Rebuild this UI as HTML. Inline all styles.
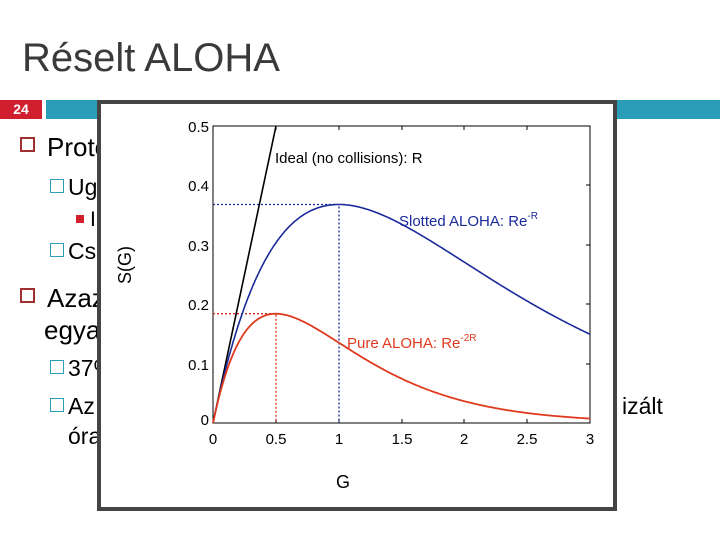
<!DOCTYPE html>
<html><head><meta charset="utf-8"><style>
html,body{margin:0;padding:0;width:720px;height:540px;overflow:hidden;background:#fff;font-family:"Liberation Sans",sans-serif;}
.t{position:absolute;white-space:nowrap;color:#000;}
</style></head><body>
<div class="t" style="left:22px;top:36px;font-size:40px;color:#3a3a3a;">Réselt ALOHA</div>
<div style="position:absolute;left:0;top:100px;width:42px;height:19px;background:#d0202f;color:#fff;font-weight:bold;font-size:14px;line-height:19px;text-align:center;">24</div>
<div style="position:absolute;left:46px;top:100px;width:674px;height:19px;background:#2b9db9;"></div>
<div class="t" style="left:20px;top:132px;font-size:26px;"><span style="display:inline-block;width:11px;height:11px;border:2px solid #a03030;margin-right:12px;vertical-align:4px"></span>Protokoll</div>
<div class="t" style="left:50px;top:174px;font-size:23px;"><span style="display:inline-block;width:12px;height:12px;border:1px solid #2b9db9;margin-right:4px;vertical-align:2px"></span>Ugyanaz</div>
<div class="t" style="left:76px;top:208px;font-size:21px;"><span style="display:inline-block;width:8px;height:8px;background:#d0202f;margin-right:6px;vertical-align:3px"></span>I</div>
<div class="t" style="left:50px;top:238px;font-size:23px;"><span style="display:inline-block;width:12px;height:12px;border:1px solid #2b9db9;margin-right:4px;vertical-align:2px"></span>Csak</div>
<div class="t" style="left:20px;top:283px;font-size:26px;"><span style="display:inline-block;width:11px;height:11px;border:2px solid #a03030;margin-right:12px;vertical-align:4px"></span>Azaz</div>
<div class="t" style="left:44px;top:315px;font-size:26px;">egyaránt</div>
<div class="t" style="left:50px;top:355px;font-size:23px;"><span style="display:inline-block;width:12px;height:12px;border:1px solid #2b9db9;margin-right:4px;vertical-align:2px"></span>37%</div>
<div class="t" style="left:50px;top:393px;font-size:23px;"><span style="display:inline-block;width:12px;height:12px;border:1px solid #2b9db9;margin-right:4px;vertical-align:2px"></span>Az</div>
<div class="t" style="left:622px;top:393px;font-size:23px;">izált</div>
<div class="t" style="left:68px;top:423px;font-size:23px;">óra</div>
<div style="position:absolute;left:97px;top:100px;width:512px;height:403px;border:4px solid #444;background:#fff;"></div>
<svg id="s" width="720" height="540" style="position:absolute;left:0;top:0" font-family="Liberation Sans, sans-serif">
<rect x="213" y="126" width="377" height="297" fill="none" stroke="#000" stroke-width="1"/>
<g stroke="#000" stroke-width="1">
<line x1="276" y1="423" x2="276" y2="419"/><line x1="339" y1="423" x2="339" y2="419"/><line x1="402" y1="423" x2="402" y2="419"/><line x1="464" y1="423" x2="464" y2="419"/><line x1="527" y1="423" x2="527" y2="419"/>
<line x1="276" y1="126" x2="276" y2="130"/><line x1="339" y1="126" x2="339" y2="130"/><line x1="402" y1="126" x2="402" y2="130"/><line x1="464" y1="126" x2="464" y2="130"/><line x1="527" y1="126" x2="527" y2="130"/>
<line x1="590" y1="185" x2="586" y2="185"/><line x1="590" y1="245" x2="586" y2="245"/><line x1="590" y1="304" x2="586" y2="304"/><line x1="590" y1="364" x2="586" y2="364"/>
</g>
<g font-size="15" fill="#000" text-anchor="end">
<text x="209" y="132">0.5</text><text x="209" y="191">0.4</text><text x="209" y="251">0.3</text><text x="209" y="310">0.2</text><text x="209" y="370">0.1</text><text x="209" y="425">0</text>
</g>
<g font-size="15" fill="#000" text-anchor="middle">
<text x="213" y="444">0</text><text x="276" y="444">0.5</text><text x="339" y="444">1</text><text x="402" y="444">1.5</text><text x="464" y="444">2</text><text x="527" y="444">2.5</text><text x="590" y="444">3</text>
<text x="343" y="488" font-size="18">G</text>
</g>
<text transform="translate(131,265) rotate(-90)" font-size="18" text-anchor="middle">S(G)</text>
<g stroke-width="1.3" stroke-dasharray="2,2" fill="none">
<polyline points="213,204.5 339,204.5 339,423" stroke="#1a2a9a"/>
<polyline points="213,313.7 276,313.7 276,423" stroke="#d03020"/>
</g>
<line x1="213" y1="423" x2="276" y2="126" stroke="#000" stroke-width="1.6"/>
<path id="b" fill="none" stroke="#1a2a9a" stroke-width="1.6"/>
<path id="r" fill="none" stroke="#e03a1e" stroke-width="1.8"/>
<text x="275" y="163" font-size="15" fill="#000">Ideal (no collisions): R</text>
<text x="399" y="226" font-size="15" fill="#1a2a9a">Slotted ALOHA: Re<tspan font-size="10" dy="-7">-R</tspan></text>
<text x="347" y="348" font-size="15" fill="#e03a1e">Pure ALOHA: Re<tspan font-size="10" dy="-7">-2R</tspan></text>
</svg>
<script>
function p(k){var d="";for(var i=0;i<=300;i++){var g=i/100;var s=g*Math.exp(-k*g);d+=(i?"L":"M")+(213+125.7*g).toFixed(1)+","+(423-594*s).toFixed(1);}return d;}
document.getElementById("b").setAttribute("d",p(1));
document.getElementById("r").setAttribute("d",p(2));
</script>
</body></html>
